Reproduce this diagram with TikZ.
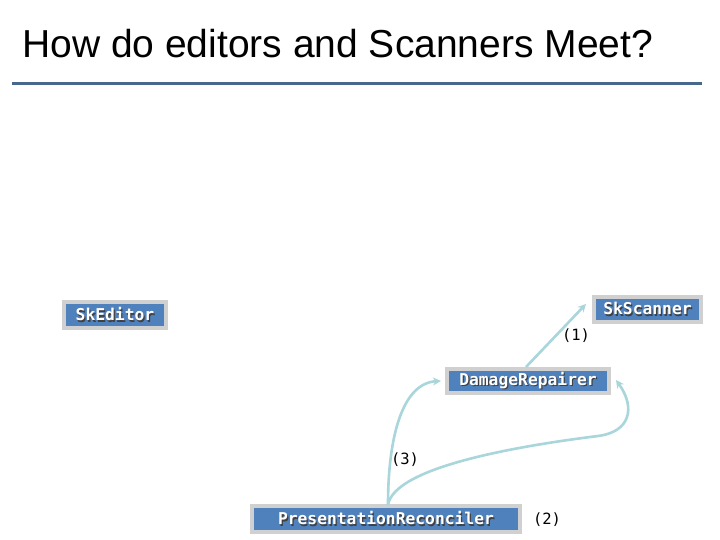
\documentclass[tikz,border=0pt]{standalone}
\usepackage{fontspec}
\setmainfont{Liberation Sans}
\newfontfamily\boxfont{DejaVu Sans Mono}
\newfontfamily\labfont{DejaVu Sans Mono}
\usetikzlibrary{arrows.meta,calc}
\definecolor{boxblue}{RGB}{79,129,189}
\definecolor{boxgray}{RGB}{208,208,208}
\definecolor{arrcol}{RGB}{168,214,219}
\definecolor{rulecol}{RGB}{70,104,140}
\newcommand{\shtext}[1]{\rlap{\hspace{1.2pt}\raisebox{-1.2pt}{\textcolor{black!75}{#1}}}\textcolor{white}{#1}}
\tikzset{
  comp/.style={draw=boxgray, line width=4pt, fill=boxblue, inner sep=0pt,
    font=\boxfont\bfseries\fontsize{16.3}{18}\selectfont},
  conn/.style={draw=arrcol, line width=2.6pt, -{Stealth[length=8pt,width=8pt]}},
  lab/.style={font=\labfont\fontsize{15.5}{17}\selectfont, inner sep=0pt}
}
\begin{document}
\begin{tikzpicture}[x=1pt,y=-1pt]
\fill[white] (0,0) rectangle (720,540);
\useasboundingbox (0,0) rectangle (720,540);
\node[anchor=base west, inner sep=0pt, font=\fontsize{39}{44}\selectfont] (title) at (22,58) {How do editors and Scanners Meet?};
\coordinate (rl) at (12,84);
\coordinate (rr) at (702,84);
\draw[rulecol, line width=3pt] (rl) -- (rr);

\node[comp, minimum width=102pt, minimum height=26pt] (ed) at (115,315) {\shtext{SkEditor}};
\node[comp, minimum width=107pt, minimum height=25pt] (sc) at (647.5,309.5) {\shtext{SkScanner}};
\node[comp, minimum width=162pt, minimum height=24pt] (dr) at (528,381) {\shtext{DamageRepairer}};
\node[comp, minimum width=268pt, minimum height=26pt] (pr) at (386,519) {\shtext{PresentationReconciler}};

\node[lab] (l1) at (576,336) {(1)};
\node[lab] (l3) at (405,460) {(3)};
\node[lab] (l2) at (547,520) {(2)};

\coordinate (s1) at ([xshift=-2pt]dr.north);
\coordinate (e1) at ([xshift=-6pt,yshift=5.5pt]sc.west);
\draw[conn] (s1) -- (e1);

\coordinate (s2) at ([xshift=2pt,yshift=-1pt]pr.north);
\coordinate (e2) at ([xshift=-4pt]dr.west);
\draw[conn] (s2) .. controls +(0,-70) and +(-38,2) .. (e2);

\coordinate (k) at (598,436);
\coordinate (e3) at ([xshift=5pt,yshift=1pt]dr.east);
\draw[draw=arrcol, line width=2.6pt] (s2) .. controls +(6,-38) and +(-80,10) .. (k);
\draw[conn] (k) .. controls +(32,-4) and +(20,28) .. (e3);
\end{tikzpicture}
\end{document}
